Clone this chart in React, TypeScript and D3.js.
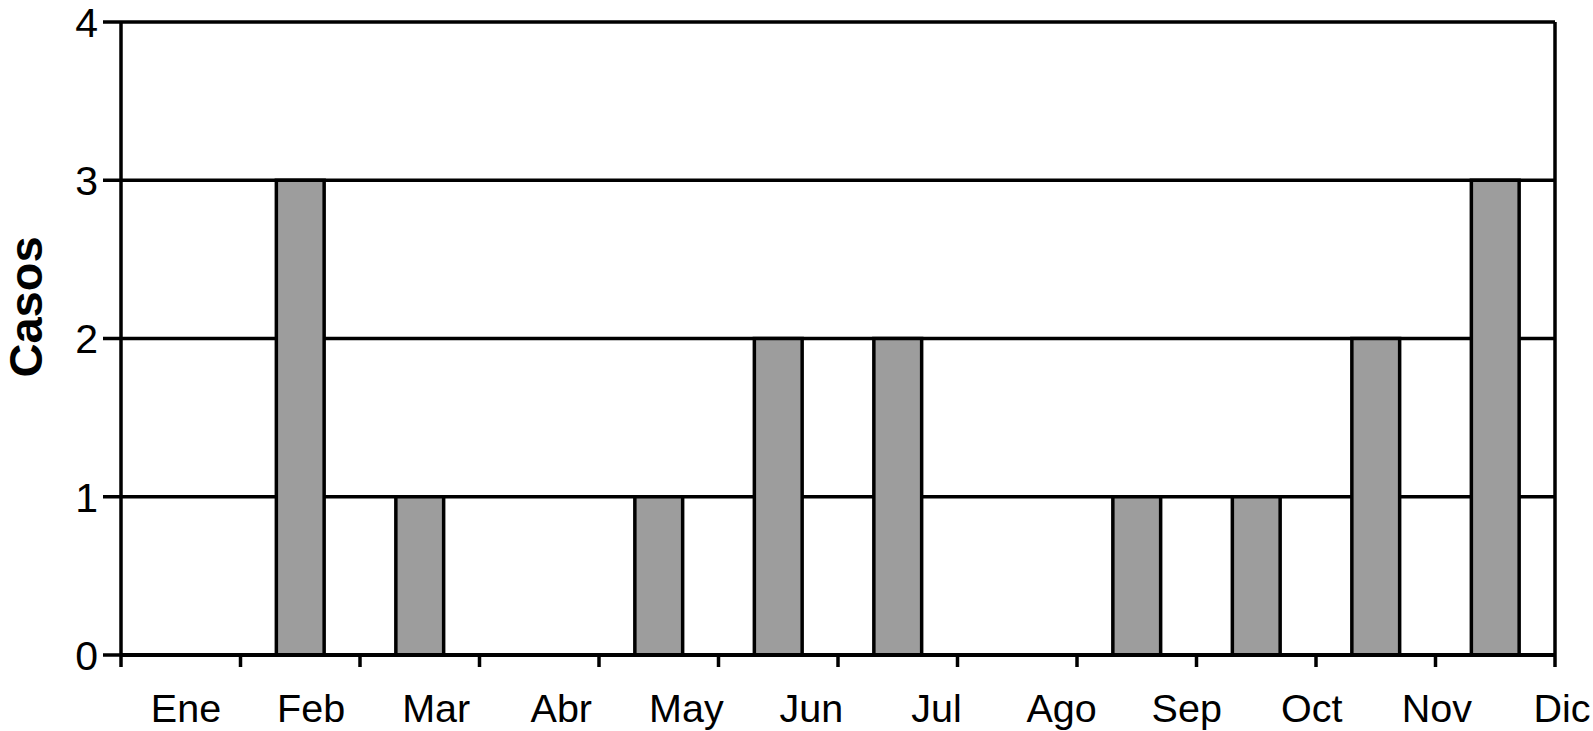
import React from "react";
import * as d3 from "d3";

const months = ["Ene", "Feb", "Mar", "Abr", "May", "Jun", "Jul", "Ago", "Sep", "Oct", "Nov", "Dic"];
const casos = [0, 3, 1, 0, 1, 2, 2, 0, 1, 1, 2, 3];
const yTicks = [0, 1, 2, 3, 4];
const yTitle = "Casos";

const W = 1593;
const H = 731;
const left = 121;
const right = 1555;
const top = 22;
const bottom = 655;

export default function App() {
  const x = d3
    .scaleBand<string>()
    .domain(months)
    .range([left, right])
    .paddingInner(0.6)
    .paddingOuter(0.3);
  const step = x.step();
  const y = d3.scaleLinear().domain([0, 4]).range([bottom, top]);
  const labelX = d3.scalePoint<string>().domain(months).range([186, 1562]);
  const boundaries = d3.range(months.length + 1).map((i) => left + i * step);
  const font = "'Liberation Sans', Arial, sans-serif";

  return (
    <svg
      width={W}
      height={H}
      style={{ position: "absolute", left: 0, top: 0, background: "#fff" }}
      fontFamily={font}
    >
      <rect x={0} y={0} width={W} height={H} fill="#fff" />
      {yTicks.map((t) => (
        <g key={t}>
          <line x1={103} x2={right} y1={y(t)} y2={y(t)} stroke="#000" strokeWidth={3.5} />
          <text x={98} y={y(t)} dy="0.36em" textAnchor="end" fontSize={41} fill="#000">
            {t}
          </text>
        </g>
      ))}
      {months.map((m, i) =>
        casos[i] > 0 ? (
          <rect
            key={m}
            x={x(m)!}
            y={y(casos[i])}
            width={x.bandwidth()}
            height={y(0) - y(casos[i])}
            fill="#9d9d9d"
            stroke="#000"
            strokeWidth={3.5}
          />
        ) : null
      )}
      <line x1={left} x2={left} y1={top} y2={bottom} stroke="#000" strokeWidth={3.5} />
      <line x1={right} x2={right} y1={top} y2={bottom} stroke="#000" strokeWidth={3.5} />
      <line x1={left} x2={right} y1={bottom} y2={bottom} stroke="#000" strokeWidth={4} />
      {boundaries.map((b, i) => (
        <line key={i} x1={b} x2={b} y1={bottom} y2={667} stroke="#000" strokeWidth={3.5} />
      ))}
      {months.map((m) => (
        <text key={m} x={labelX(m)!} y={722} textAnchor="middle" fontSize={39.5} fill="#000">
          {m}
        </text>
      ))}
      <text
        transform={`translate(42, ${307}) rotate(-90)`}
        textAnchor="middle"
        fontSize={47}
        fontWeight="bold"
        fill="#000"
      >
        {yTitle}
      </text>
    </svg>
  );
}
